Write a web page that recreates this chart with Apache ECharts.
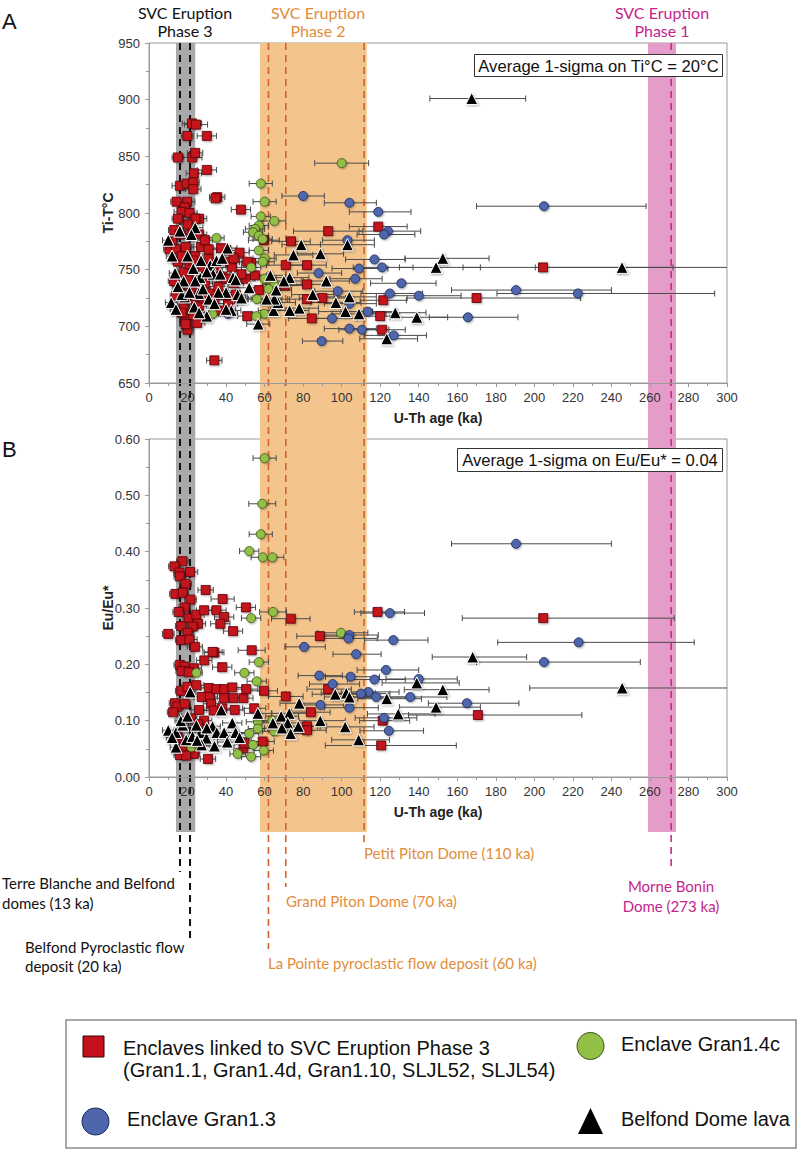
<!DOCTYPE html>
<html><head><meta charset="utf-8">
<script src="https://cdn.jsdelivr.net/npm/echarts@6/dist/echarts.min.js"></script>
<style>html,body{margin:0;padding:0;background:#fff}#c{width:800px;height:1150px}</style>
</head><body><div id="c"></div>
<script>
// ---------- DATA: [U-Th age (ka), value, error minus (ka), error plus (ka)] ----------
const redTi = [
[22.3,879,5,5],[24.4,878,6,6],[19.9,868,3,3],[30,868,5,5],[15,849,3,3],[22.5,849,5,5],[23.9,853,4,4],[23.3,835,4,4],[30,838,5,5],
[16,824,4,4],[19.6,826,4,4],[23,827,3,3],[23,821,4,4],[35.4,814,4,4],[34.5,813,3,3],[14.3,810,3,3],[19.8,810,4,4],[18.5,805,3,3],
[47.7,803,5,5],[17,801,4,4],[21,800,4,4],[26,795,4,4],[13.1,785,3,3],[16,781,3,3],[22,782,4,4],[10.6,768,3,3],[40,767,5,5],
[37.4,769,5,5],[42,757,5,5],[47,765,5,5],[53,756,5,5],[51,757,4,4],[50,742,5,5],[59.6,776,8,8],[73.7,775,10,10],[71,754,10,10],
[82,754,10,10],[93,784,18,18],[119,788,15,15],[70.5,736,10,10],[82,737,9,9],[33.9,670,4,4],[20,697,3,3],[19,707,3,3],[84.5,707,12,12],
[121,697,12,12],[120,709,10,10],[90,725,12,12],[82,724,10,10],[121.6,723,12,12],[51,709,5,5],[36,714,5,5],[46.6,724,5,5],[41,720,5,5],
[204.5,752,41.5,67.5],[170,725,36,54],
[12,775,3,3],[14,768,3,3],[15,757,3,3],[17,762,3,3],[18,748,3,3],[19,770,4,4],[20,741,3,3],[21,755,4,4],[22,733,4,4],[24,762,4,4],
[25,745,4,4],[26,727,4,4],[27,770,5,5],[28,752,4,4],[29,738,4,4],[31,760,4,4],[32,729,5,5],[33,745,5,5],[35,752,5,5],[36,735,5,5],
[38,744,5,5],[39,728,5,5],[43,752,5,5],[44,738,5,5],[45,728,5,5],[48,746,5,5],[13,740,3,3],[16,733,3,3],[18,718,3,3],[21,724,3,3],
[23,710,4,4],[17,712,3,3],[19,702,3,3],[25,703,4,4],[26,718,4,4],[28,725,4,4],[14,727,3,3],[24,795,4,4],[20,790,4,4],[15,795,3,3],
[26,781,4,4],[29,776,4,4],[31,768,5,5],[23,758,4,4],[40,742,5,5],[34,724,5,5],[55,745,6,6],[57,732,6,6],[44,760,5,5]
];
const greenTi = [
[100,844,14,14],[58,826,6,6],[60,810,6,6],[58,797,5,5],[65,793,6,6],[57,789,5,5],[55,786,5,5],[54,783,5,5],[57,780,5,5],[59,777,5,5],
[35,778,4,4],[57,767,5,5],[60,760,6,6],[59,757,6,6],[60,742,6,6],[65,737,6,6],[59.8,711,6,6],[55.7,709,5,5],[33,711,4,4],[56,724,5,5],
[62,733,6,6],[53,752,5,5]
];
const blueTi = [
[80,815,11,11],[104,809,13,14],[119,801,15,17],[124,784,15,17],[122,781,14,16],[103,776,13,14],[117,759,15,16],[109,751,14,15],
[121,752,15,16],[88,747,11,12],[107,742,13,14],[125,729,15,17],[205,806,35,53],[190.5,732,33.5,49.5],[222.6,729,42,71],[140,727,18,22],
[165.5,708,20,26],[89.6,687,10,11],[104,698,13,14],[110.5,697,12,14],[127,692,15,17],[95,707,12,13],[113.6,713,14,15],[104,720,13,14],
[41,711,5,5],[131,738,16,18],[98,731,12,13]
];
const triTi = [
[167.5,901,21.7,28],[152.5,760,19.7,24],[149,752,19,23],[245.5,752,45,80],[10,776,3,3],[16,784,3,3],[24,787,4,4],[22,781,4,4],
[40.7,769,5,5],[79,772,10,10],[75,763,10,10],[89,764,12,12],[103,772,14,14],[73,743,10,10],[139,708,14,16],[123.4,689,14,16],
[56.7,702,6,6],[102,713,14,14],[109,711,14,14],[127.8,712,15,16],[104,726,14,14],[97,721,13,13],[78,716,10,10],[73,714,10,10],
[64.7,714,8,8],[67,721,9,9],[65,724,8,8],[61,724,8,8],[30,709,4,4],[42.7,714,5,5],[40,715,5,5],[11.5,721,3,3],[18.5,726,3,3],
[23.5,717,4,4],[13.5,747,3,3],[18,740,3,3],[26.5,743,4,4],[31.8,754,4,4],[35,758,5,5],[43.6,743,5,5],[33.3,746,5,5],[17,728,3,3],
[25.8,729,4,4],[40,730,5,5],[15,735,3,3],[20,762,3,3],[21,730,3,3],[23,751,4,4],[24,740,4,4],[27,758,4,4],[28,733,4,4],[30,748,4,4],
[31,724,4,4],[36,730,5,5],[37,746,5,5],[38,760,5,5],[45,741,5,5],[46,728,5,5],[14,715,3,3],[26,712,4,4],[34,720,5,5],[12,762,3,3],
[48,725,6,6],[52,734,6,6],[63,745,8,8],[66,732,8,8],[70,740,9,9],[85,728,11,11],[92,740,12,12]
];
const redEu = [
[17.3,0.383,3,3],[13.2,0.374,3,3],[15.8,0.363,3,3],[21.3,0.364,4,4],[16,0.356,3,3],[19,0.343,3,3],[29.4,0.332,4,4],[13.7,0.325,3,3],
[17.5,0.327,3,3],[38.2,0.316,6,6],[21.5,0.315,3,3],[118.6,0.293,12,14],[204.6,0.282,42,68],[73.6,0.281,10,10],[50.3,0.301,5,5],
[18.5,0.301,3,3],[15.4,0.293,3,3],[20.6,0.282,3,3],[24.6,0.288,4,4],[28.6,0.296,4,4],[35,0.296,5,5],[39,0.284,5,5],[37,0.272,5,5],
[25.4,0.272,4,4],[16.7,0.268,3,3],[22.7,0.267,3,3],[43.6,0.259,5,5],[20,0.256,3,3],[10,0.254,3,3],[16.7,0.243,3,3],[21,0.244,4,4],
[23.8,0.231,4,4],[88.7,0.25,12,12],[53.3,0.225,7,7],[33.9,0.221,5,5],[28.7,0.207,4,4],[38,0.195,5,5],[16,0.199,3,3],[18.5,0.196,3,3],
[23.3,0.193,4,4],[17,0.188,3,3],[20.6,0.186,3,3],[33,0.222,5,5],[93,0.156,11,12],[71,0.143,9,9],[170.7,0.11,36,54],[121.3,0.1,12,14],
[120.5,0.056,29,39],[84,0.115,10,10],[82,0.09,10,10],[82,0.083,10,10],[49,0.051,5,5],[30.6,0.032,4,4],[16,0.039,3,3],[16.7,0.153,3,3],
[20,0.16,3,3],[24.5,0.163,4,4],[31,0.158,4,4],[27.4,0.142,4,4],[31.6,0.142,4,4],[35,0.156,5,5],[39,0.156,5,5],[43.2,0.159,5,5],
[39,0.14,5,5],[43.8,0.14,5,5],[49,0.14,5,5],[50.5,0.156,6,6],[54.6,0.122,6,6],[59.7,0.153,7,7],[13.5,0.131,3,3],[14.8,0.125,3,3],
[18.5,0.13,3,3],[26,0.119,4,4],[32.2,0.13,4,4],[33.5,0.118,5,5],[38,0.122,5,5],[44.5,0.119,5,5],[21.8,0.104,3,3],[28.6,0.1,4,4],
[25.4,0.094,4,4],[18,0.054,3,3],[22,0.047,3,3],[23.3,0.041,3,3],[19.3,0.038,3,3],[49.5,0.06,5,5],[59,0.063,6,6],[12.5,0.115,3,3],[15,0.07,3,3]
];
const greenEu = [
[60,0.566,6,6],[58.8,0.485,7,7],[58,0.431,6,6],[52,0.401,5,5],[59,0.39,6,6],[64,0.39,6,6],[64.4,0.293,7,7],[53,0.282,5,5],
[99.6,0.256,12,14],[57,0.204,5,5],[49.5,0.185,5,5],[55.9,0.17,5,5],[24.6,0.185,3,3],[56.5,0.098,6,6],[56.5,0.086,5,5],[65,0.081,6,6],
[52,0.077,5,5],[54,0.057,5,5],[59.6,0.047,5,5],[46,0.041,4,4],[53,0.036,5,5],[64,0.1,6,6],[22,0.053,3,3]
];
const blueEu = [
[125,0.291,15,18],[104,0.252,13,15],[103.5,0.246,13,15],[126.8,0.243,15,18],[223,0.239,42,60],[80.5,0.231,10,11],[107.5,0.218,12,13],
[205,0.204,35,50],[123,0.19,15,17],[88.4,0.18,11,12],[104.6,0.178,13,15],[117,0.173,14,16],[140,0.174,17,20],[95.3,0.165,12,14],
[113.8,0.151,14,16],[110,0.148,13,15],[117.9,0.142,14,16],[135.6,0.142,17,19],[165,0.131,20,27],[89,0.128,11,12],[104,0.123,13,15],
[122,0.105,15,17],[124.5,0.082,15,18],[190.5,0.414,33.5,49.5]
];
const triEu = [
[168,0.213,21,28],[139,0.167,18,22],[152.5,0.155,20,24],[245.6,0.158,48,80],[96.7,0.147,12,14],[102.4,0.149,13,15],[104,0.142,13,15],
[123.4,0.139,15,18],[78,0.131,10,11],[149,0.124,19,23],[129.4,0.112,16,19],[88.9,0.1,11,13],[101.8,0.089,13,15],[108.8,0.066,14,16],
[72.8,0.113,9,10],[68.6,0.108,8,9],[56.5,0.113,7,7],[64.3,0.096,8,8],[72,0.096,9,9],[69,0.087,9,9],[77.5,0.09,9,10],[73.5,0.077,9,9],
[10,0.083,3,3],[14,0.053,3,3],[21.4,0.151,3,3],[14,0.079,3,3],[17.5,0.092,3,3],[19.3,0.066,3,3],[22.6,0.072,3,3],[26.6,0.079,4,4],
[24.6,0.092,4,4],[29.8,0.069,4,4],[33,0.09,4,4],[35.2,0.079,5,5],[37.5,0.119,5,5],[39,0.079,5,5],[40.6,0.062,5,5],[43.2,0.096,5,5],
[45,0.079,5,5],[34,0.055,5,5],[27.3,0.057,4,4],[12,0.07,3,3],[16.5,0.1,3,3],[30,0.087,4,4],[47,0.07,5,5],[20,0.108,3,3],[25,0.065,4,4]
];

const seriesNames = ['Enclaves linked to SVC Eruption Phase 3', 'Enclave Gran1.4c', 'Enclave Gran1.3', 'Belfond Dome lava'];
const legendSubLabel = '(Gran1.1, Gran1.4d, Gran1.10, SLJL52, SLJL54)';
const xRange = [0, 300, 20];          // min, max, interval (ka)
const tiRange = [650, 950, 50];       // Ti-T°C axis
const euRange = [0, 0.6, 0.1];        // Eu/Eu* axis
const phaseStart = [14, 57.6, 259];   // SVC eruption phases 3, 2, 1 (ka)
const phaseEnd = [24, 113, 273.5];
const phaseTitles = ['Phase 3', 'Phase 2', 'Phase 1'];
const eventAges = [16.1, 21.3, 62, 71, 111.6, 271];
const sigmaNotes = ['Average 1-sigma on Ti°C = 20°C', 'Average 1-sigma on Eu/Eu* = 0.04'];

// ---------- STYLE / LAYOUT ----------
const FONT = 'Liberation Sans, Arial, sans-serif';
const AFONT = 'Lato, sans-serif';
const bandColors = ['#a9a9a9', '#f3c58d', '#e49cc9'];
const eventColors = ['#111', '#111', '#d4602a', '#d4602a', '#d4602a', '#c42a8c'];
const eventEndPx = [872, 938, 949, 887, 842, 870];
const BAND_BOTTOM = 832;
const L = 149, W = 578;

function xAxisCfg(gi) {
  return { gridIndex: gi, type: 'value', min: xRange[0], max: xRange[1], interval: xRange[2], z: 3,
    axisLine: { lineStyle: { color: '#9a9a9a' } },
    axisTick: { length: 4, lineStyle: { color: '#9a9a9a' } },
    minorTick: { show: true, splitNumber: 2, length: 3, lineStyle: { color: '#9a9a9a' } },
    splitLine: { show: false },
    axisLabel: { color: '#333', fontSize: 13, fontFamily: FONT, margin: 8 },
    name: 'U-Th age (ka)', nameLocation: 'middle', nameGap: 28, nameMoveOverlap: false,
    nameTextStyle: { color: '#222', fontSize: 14, fontWeight: 'bold', fontFamily: FONT } };
}
function yAxisCfg(gi, r, name, fmt) {
  return { gridIndex: gi, type: 'value', min: r[0], max: r[1], interval: r[2], z: 3,
    axisLine: { show: true, lineStyle: { color: '#9a9a9a' } },
    axisTick: { show: true, length: 4, lineStyle: { color: '#9a9a9a' } },
    minorTick: { show: true, splitNumber: 2, length: 3, lineStyle: { color: '#9a9a9a' } },
    splitLine: { show: false },
    axisLabel: { color: '#333', fontSize: 13, fontFamily: FONT, margin: 9, formatter: fmt },
    name, nameLocation: 'middle', nameGap: 34, nameMoveOverlap: false,
    nameTextStyle: { color: '#222', fontSize: 14, fontWeight: 'bold', fontFamily: FONT } };
}
function errSeries(data, ai) {
  return { type: 'custom', xAxisIndex: ai, yAxisIndex: ai, z: 4, clip: true, silent: true, animation: false,
    data, encode: { x: 0, y: 1 },
    renderItem(params, api) {
      const a = api.value(0), v = api.value(1), lo = api.value(2), hi = api.value(3);
      const p1 = api.coord([a - lo, v]), p2 = api.coord([a + hi, v]);
      const st = { stroke: '#4a4a4a', lineWidth: 1 };
      return { type: 'group', children: [
        { type: 'line', shape: { x1: p1[0], y1: p1[1], x2: p2[0], y2: p2[1] }, style: st },
        { type: 'line', shape: { x1: p1[0], y1: p1[1] - 3, x2: p1[0], y2: p1[1] + 3 }, style: st },
        { type: 'line', shape: { x1: p2[0], y1: p2[1] - 3, x2: p2[0], y2: p2[1] + 3 }, style: st } ] };
    } };
}
const markerStyles = [
  { symbol: 'rect', size: 9, color: '#c3121d', border: '#5a0508', bw: 0.8 },
  { symbol: 'circle', size: 9, color: '#92c046', border: '#3b5016', bw: 0.8 },
  { symbol: 'circle', size: 9, color: '#4f66ad', border: '#1b2756', bw: 0.8 },
  { symbol: 'triangle', size: 12, color: '#000', border: '#fff', bw: 1 }
];
function ptSeries(k, data, ai) {
  const m = markerStyles[k];
  return { name: seriesNames[k], type: 'scatter', xAxisIndex: ai, yAxisIndex: ai, z: 5 + k, animation: false,
    symbol: m.symbol, symbolSize: m.size, data: data.map(d => [d[0], d[1]]),
    itemStyle: { color: m.color, borderColor: m.border, borderWidth: m.bw, opacity: 1,
      shadowBlur: 2, shadowColor: 'rgba(0,0,0,0.35)', shadowOffsetX: 1, shadowOffsetY: 1 },
    emphasis: { disabled: true } };
}

const groupsA = [redTi, greenTi, blueTi, triTi];
const groupsB = [redEu, greenEu, blueEu, triEu];
const series = [];
// overlay: eruption phase bands
series.push({ type: 'custom', xAxisIndex: 2, yAxisIndex: 2, z: 1, silent: true, animation: false, clip: false,
  data: phaseStart.map((s, i) => [s, phaseEnd[i], i]), encode: { x: [0, 1] },
  renderItem(params, api) {
    const x1 = api.coord([api.value(0), 0])[0], x2 = api.coord([api.value(1), 0])[0];
    const cs = params.coordSys;
    return { type: 'rect', shape: { x: x1, y: cs.y, width: x2 - x1, height: BAND_BOTTOM - cs.y },
      style: { fill: bandColors[api.value(2)] } };
  } });
// overlay: dated events (dashed lines)
series.push({ type: 'custom', xAxisIndex: 2, yAxisIndex: 2, z: 2, silent: true, animation: false, clip: false,
  data: eventAges.map((a, i) => [a, i]), encode: { x: 0 },
  renderItem(params, api) {
    const i = api.value(1);
    const x = api.coord([api.value(0), 0])[0];
    const cs = params.coordSys;
    return { type: 'line', shape: { x1: x, y1: cs.y, x2: x, y2: eventEndPx[i] },
      style: { stroke: eventColors[i], lineWidth: i < 2 ? 2 : 1.6, lineDash: [7, 5] } };
  } });
groupsA.forEach(g => series.push(errSeries(g, 0)));
groupsB.forEach(g => series.push(errSeries(g, 1)));
groupsA.forEach((g, k) => series.push(ptSeries(k, g, 0)));
groupsB.forEach((g, k) => series.push(ptSeries(k, g, 1)));

function txt(x, y, text, o) {
  o = o || {};
  return { type: 'text', x, y, z: 20, silent: true,
    style: { text, fill: o.fill || '#111', font: o.font || ('15px ' + AFONT),
      textAlign: o.align || 'left', textVerticalAlign: 'middle' } };
}
const ORANGE = '#e28d3a', MAGENTA = '#c4268b';
const HF = '16px ' + AFONT;   // header font
const NF = '15px ' + AFONT;   // note font
const LF = '20px ' + FONT;    // legend font
const graphics = [
  txt(2, 21, 'A', { font: '22px ' + FONT }),
  txt(2, 449, 'B', { font: '22px ' + FONT }),
  txt(185, 12, 'SVC Eruption', { align: 'center', font: HF }),
  txt(185, 30, phaseTitles[0], { align: 'center', font: HF }),
  txt(318, 12, 'SVC Eruption', { align: 'center', font: HF, fill: ORANGE }),
  txt(318, 30, phaseTitles[1], { align: 'center', font: HF, fill: ORANGE }),
  txt(662, 12, 'SVC Eruption', { align: 'center', font: HF, fill: MAGENTA }),
  txt(662, 30, phaseTitles[2], { align: 'center', font: HF, fill: MAGENTA }),
  { type: 'rect', z: 19, shape: { x: 474.5, y: 54.5, width: 248, height: 22 }, style: { fill: '#fff', stroke: '#333', lineWidth: 1 } },
  txt(598.5, 66, sigmaNotes[0], { align: 'center', font: '16.6px ' + FONT }),
  { type: 'rect', z: 19, shape: { x: 457.5, y: 448.5, width: 265, height: 23 }, style: { fill: '#fff', stroke: '#333', lineWidth: 1 } },
  txt(590, 460.5, sigmaNotes[1], { align: 'center', font: '16.6px ' + FONT }),
  txt(2, 883, 'Terre Blanche and Belfond', { font: NF }),
  txt(2, 903, 'domes (13 ka)', { font: NF }),
  txt(25, 947, 'Belfond Pyroclastic flow', { font: NF }),
  txt(25, 966, 'deposit (20 ka)', { font: NF }),
  txt(364, 853, 'Petit Piton Dome (110 ka)', { font: NF, fill: ORANGE }),
  txt(286, 901, 'Grand Piton Dome (70 ka)', { font: NF, fill: ORANGE }),
  txt(268, 963, 'La Pointe pyroclastic flow deposit (60 ka)', { font: NF, fill: ORANGE }),
  txt(671, 886, 'Morne Bonin', { align: 'center', font: NF, fill: MAGENTA }),
  txt(671, 906, 'Dome (273 ka)', { align: 'center', font: NF, fill: MAGENTA }),
  // legend
  { type: 'rect', z: 19, shape: { x: 66, y: 1020, width: 730, height: 128 }, style: { fill: '#fff', stroke: '#8a8a8a', lineWidth: 1.5 } },
  { type: 'rect', z: 20, shape: { x: 83, y: 1036, width: 21, height: 21 }, style: { fill: markerStyles[0].color, stroke: '#3a0000', lineWidth: 1 } },
  txt(123, 1047.5, seriesNames[0], { font: LF }),
  txt(123, 1070, legendSubLabel, { font: LF }),
  { type: 'circle', z: 20, shape: { cx: 95.5, cy: 1121.5, r: 13.5 }, style: { fill: markerStyles[2].color, stroke: '#1b2756', lineWidth: 1 } },
  txt(127, 1119, seriesNames[2], { font: LF }),
  { type: 'circle', z: 20, shape: { cx: 590.5, cy: 1046, r: 13.5 }, style: { fill: markerStyles[1].color, stroke: '#3b5016', lineWidth: 1 } },
  txt(621, 1044, seriesNames[1], { font: LF }),
  { type: 'polygon', z: 20, shape: { points: [[590.5, 1108], [603, 1134], [578, 1134]] }, style: { fill: '#000' } },
  txt(621, 1119, seriesNames[3], { font: LF })
];

const chart = echarts.init(document.getElementById('c'), null, { renderer: 'svg', width: 800, height: 1150 });
chart.setOption({
  animation: false,
  backgroundColor: '#fff',
  grid: [
    { left: L, width: W, top: 43, height: 340, show: true, borderColor: '#9a9a9a', borderWidth: 1, backgroundColor: 'transparent', outerBoundsMode: 'none' },
    { left: L, width: W, top: 439, height: 338, show: true, borderColor: '#9a9a9a', borderWidth: 1, backgroundColor: 'transparent', outerBoundsMode: 'none' },
    { left: L, width: W, top: 43, height: 906, show: false, outerBoundsMode: 'none' }
  ],
  xAxis: [xAxisCfg(0), xAxisCfg(1), { gridIndex: 2, type: 'value', min: xRange[0], max: xRange[1], show: false }],
  yAxis: [
    yAxisCfg(0, tiRange, 'Ti-T°C', v => String(v)),
    yAxisCfg(1, euRange, 'Eu/Eu*', v => v.toFixed(2)),
    { gridIndex: 2, type: 'value', min: 0, max: 1, show: false }
  ],
  series,
  graphic: graphics
});
</script></body></html>
